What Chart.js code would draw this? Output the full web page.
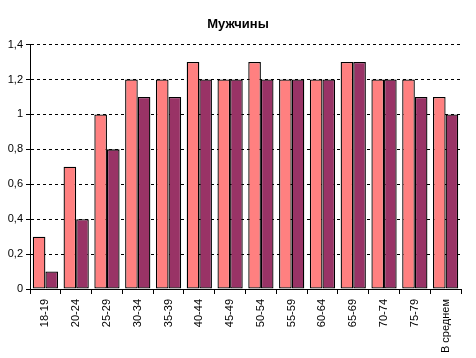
<!DOCTYPE html>
<html>
<head>
<meta charset="utf-8">
<script src="https://cdn.jsdelivr.net/npm/chart.js@4"></script>
<style>
  html, body { margin:0; padding:0; background:#fff; }
  #wrap { width:476px; height:358px; }
</style>
</head>
<body>
<div id="wrap"><canvas id="c"></canvas></div>
<script>
'use strict';

// ── Data ──────────────────────────────────────────────────
const AGE_GROUPS = ['18-19','20-24','25-29','30-34','35-39','40-44','45-49',
                    '50-54','55-59','60-64','65-69','70-74','75-79','В среднем'];
const SERIES_A = [0.3, 0.7, 1.0, 1.2, 1.2, 1.3, 1.2, 1.3, 1.2, 1.2, 1.3, 1.2, 1.2, 1.1];
const SERIES_B = [0.1, 0.4, 0.8, 1.1, 1.1, 1.2, 1.2, 1.2, 1.2, 1.2, 1.3, 1.2, 1.1, 1.0];
const Y_MAX  = 1.4;
const Y_STEP = 0.2;

// ── Style ─────────────────────────────────────────────────
const FONT = { family: "'Liberation Sans', Arial, sans-serif", size: 11 };

new Chart(document.getElementById('c'), {
  type: 'bar',
  data: {
    labels: AGE_GROUPS,
    datasets: [
      { data: SERIES_A, backgroundColor: '#ff8080', borderColor: '#000', borderWidth: 1.3, borderSkipped: false },
      { data: SERIES_B, backgroundColor: '#993366', borderColor: '#000', borderWidth: 1.3, borderSkipped: false },
    ]
  },
  options: {
    responsive: true, maintainAspectRatio: false, animation: false,
    layout: { padding: 0 },
    datasets: { bar: { barPercentage: 1.0, categoryPercentage: 0.82 } },
    plugins: {
      legend: { display: false },
      tooltip: { enabled: false },
      title: {
        display: true, text: 'Мужчины', color: '#000',
        font: { family: FONT.family, size: 13, weight: 'bold' },
        padding: { top: 17, bottom: 12 }
      }
    },
    scales: {
      x: {
        grid: { display: true, drawOnChartArea: false, drawTicks: true, tickLength: 5, color: '#000', offset: true },
        border: { color: '#000', width: 1 },
        ticks: { font: FONT, color: '#000', maxRotation: 90, minRotation: 90, padding: 5 },
        afterFit: s => { s.height = 69; }
      },
      y: {
        min: 0, max: Y_MAX,
        grid: { color: '#000', tickLength: 4, tickColor: '#000' },
        border: { color: '#000', width: 1, dash: [3, 3] },
        ticks: {
          stepSize: Y_STEP, font: FONT, color: '#000', padding: 3,
          callback: v => String(Math.round(v * 10) / 10).replace('.', ',')
        },
        afterFit: s => { s.width = 30; }
      },
      // empty right margin so the title stays centred on the canvas
      yPad: {
        position: 'right', min: 0, max: Y_MAX,
        grid: { display: false }, border: { display: false },
        ticks: { display: false },
        afterFit: s => { s.width = 15; }
      }
    }
  }
});
</script>
</body>
</html>
